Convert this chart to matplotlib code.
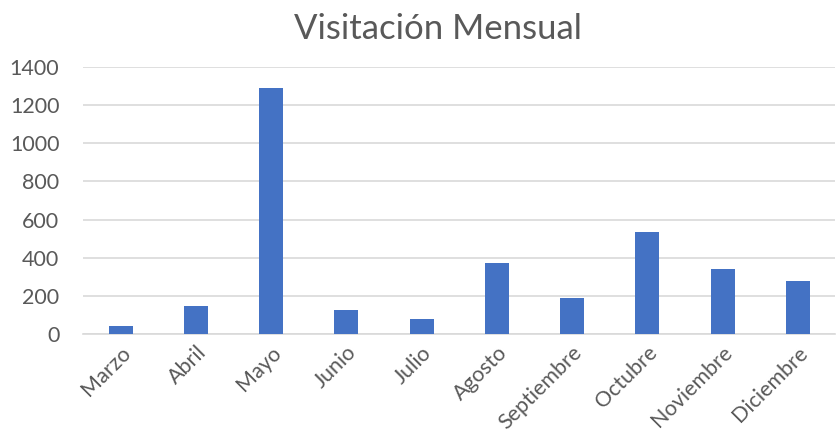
import matplotlib.pyplot as plt

plt.rcParams['font.family'] = ['Lato', 'DejaVu Sans']

# data
meses = ["Marzo", "Abril", "Mayo", "Junio", "Julio", "Agosto",
         "Septiembre", "Octubre", "Noviembre", "Diciembre"]
visitas = [42, 147, 1290, 124, 79, 370, 189, 534, 341, 278]
y_ticks = [0, 200, 400, 600, 800, 1000, 1200, 1400]

fig = plt.figure(figsize=(8.38, 4.43), dpi=100)
ax = fig.add_axes([0.099, 0.246, 0.898, 0.603])

x = range(len(meses))
ax.bar(x, visitas, width=0.32, color="#4472C4", zorder=3)

ax.set_xlim(-0.5, len(meses) - 0.5)
ax.set_ylim(0, 1400)
ax.set_yticks(y_ticks)
ax.set_yticklabels([str(v) for v in y_ticks], fontsize=15.5, color="#595959")
ax.yaxis.grid(True, color="#d9d9d9", linewidth=1.2, zorder=0)
ax.set_xticks(list(x))
ax.set_xticklabels(meses, rotation=45, ha="right", rotation_mode="anchor",
                   fontsize=15.5, color="#595959")
ax.tick_params(axis="both", length=0)
ax.tick_params(axis="y", pad=17)
ax.tick_params(axis="x", pad=6)
for s in ["top", "right", "left"]:
    ax.spines[s].set_visible(False)
ax.spines["bottom"].set_color("#d9d9d9")
ax.spines["bottom"].set_linewidth(1.2)

fig.text(0.523, 0.935, "Visitación Mensual", ha="center", va="center",
         fontsize=25, color="#595959")

fig.savefig("out.png", dpi=100)
